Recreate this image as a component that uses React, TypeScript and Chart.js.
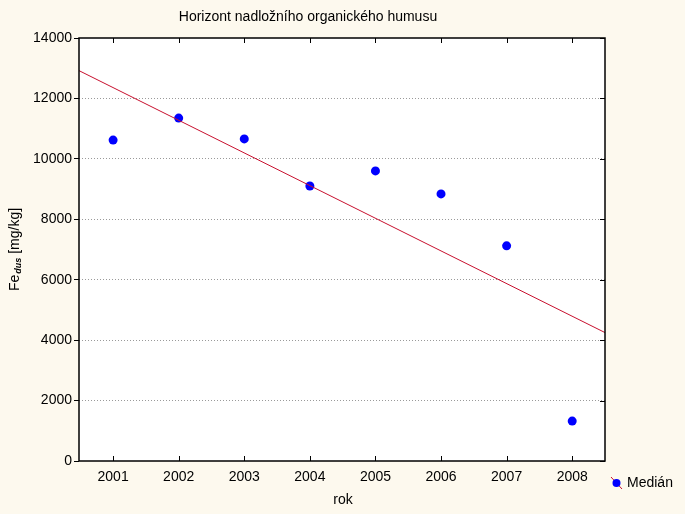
import React, { useEffect, useRef } from "react";
import { Chart, registerables } from "chart.js";

Chart.register(...registerables);

const years = [2001, 2002, 2003, 2004, 2005, 2006, 2007, 2008];
const medians = [10620, 11350, 10660, 9100, 9600, 8840, 7120, 1320];
const fitX = [2000.48, 2008.5];
const fitY = [12920, 4250];
const yTicks = [0, 2000, 4000, 6000, 8000, 10000, 12000, 14000];
const titleText = "Horizont nadložního organického humusu";
const xTitle = "rok";
const legendLabel = "Medián";

const FONT = "'Liberation Sans', Arial, sans-serif";
const FS = 14;
const BG = "#fdf9ee";

const decorPlugin = {
  id: "decor",
  afterDatasetsDraw(chart: any) {
    const ctx = chart.ctx;
    const { left, right, top, bottom } = chart.chartArea;
    const xs = chart.scales.x;
    const ys = chart.scales.y;
    ctx.save();
    // frame
    ctx.strokeStyle = "#000";
    ctx.lineWidth = 1.5;
    ctx.strokeRect(left, top, right - left, bottom - top);
    ctx.lineWidth = 1;
    ctx.beginPath();
    years.forEach((yr) => {
      const px = Math.round(xs.getPixelForValue(yr)) + 0.5;
      ctx.moveTo(px, bottom);
      ctx.lineTo(px, bottom - 5);
      ctx.moveTo(px, top);
      ctx.lineTo(px, top + 5);
    });
    yTicks.forEach((v) => {
      const py = Math.round(ys.getPixelForValue(v)) + 0.5;
      ctx.moveTo(right, py);
      ctx.lineTo(right - 5, py);
    });
    ctx.stroke();

    // title
    ctx.fillStyle = "#000";
    ctx.font = `${FS}px ${FONT}`;
    ctx.textAlign = "center";
    ctx.textBaseline = "middle";
    ctx.fillText(titleText, 308, 17);
    ctx.fillText(xTitle, 343, 500);

    // y title with subscript
    ctx.save();
    ctx.translate(15, 291);
    ctx.rotate(-Math.PI / 2);
    ctx.textAlign = "left";
    ctx.textBaseline = "middle";
    ctx.font = `${FS}px ${FONT}`;
    ctx.fillText("Fe", 0, 0);
    let w = ctx.measureText("Fe").width;
    ctx.font = `italic bold 9px ${FONT}`;
    ctx.fillText("dus", w + 1, 4);
    w += 1 + ctx.measureText("dus").width;
    ctx.font = `${FS}px ${FONT}`;
    ctx.fillText(" [mg/kg]", w, 0);
    ctx.restore();

    // legend
    ctx.strokeStyle = "#c8102e";
    ctx.lineWidth = 1;
    ctx.beginPath();
    ctx.moveTo(611, 477);
    ctx.lineTo(622, 489);
    ctx.stroke();
    ctx.fillStyle = "#0000ff";
    ctx.beginPath();
    ctx.arc(616.5, 483, 4, 0, Math.PI * 2);
    ctx.fill();
    ctx.fillStyle = "#000";
    ctx.font = `${FS}px ${FONT}`;
    ctx.textAlign = "left";
    ctx.textBaseline = "middle";
    ctx.fillText(legendLabel, 627, 483);
    ctx.restore();
  },
};

export default function App() {
  const ref = useRef<HTMLCanvasElement>(null);
  useEffect(() => {
    document.body.style.margin = "0";
    const chart = new Chart(ref.current!, {
      type: "scatter",
      data: {
        datasets: [
          {
            type: "line",
            label: "fit",
            data: fitX.map((x, i) => ({ x, y: fitY[i] })),
            borderColor: "#c8102e",
            borderWidth: 1,
            pointRadius: 0,
            fill: false,
          } as any,
          {
            label: legendLabel,
            data: years.map((x, i) => ({ x, y: medians[i] })),
            backgroundColor: "#0000ff",
            borderColor: "#0000ff",
            pointRadius: 4.5,
            borderWidth: 0,
          },
        ],
      },
      options: {
        animation: false,
        responsive: false,
        maintainAspectRatio: false,
        layout: { padding: { left: 0, top: 38, right: 80, bottom: 0 } },
        plugins: { legend: { display: false }, tooltip: { enabled: false }, title: { display: false } },
        scales: {
          x: {
            type: "linear",
            min: fitX[0],
            max: fitX[1],
            afterBuildTicks: (s: any) => {
              s.ticks = years.map((v) => ({ value: v }));
            },
            afterFit: (s: any) => {
              s.height = 53;
            },
            grid: { display: false, drawTicks: false },
            border: { display: false },
            ticks: {
              color: "#000",
              font: { family: FONT, size: FS },
              padding: 8,
              maxRotation: 0,
              autoSkip: false,
              callback: (v: any) => String(v),
            },
          },
          y: {
            min: 0,
            max: 14000,
            afterBuildTicks: (s: any) => {
              s.ticks = yTicks.map((v) => ({ value: v }));
            },
            afterFit: (s: any) => {
              s.width = 79;
            },
            grid: {
              display: true,
              drawTicks: true,
              tickLength: 5,
              tickColor: "#000",
              color: (c: any) =>
                c.tick && (c.tick.value === 0 || c.tick.value === 14000) ? "rgba(0,0,0,0)" : "#9a9a9a",
            },
            border: { display: false, dash: [1, 2] },
            ticks: {
              color: "#000",
              font: { family: FONT, size: FS },
              padding: 2,
              callback: (v: any) => String(v),
            },
          },
        },
      },
      plugins: [
        {
          id: "bg",
          beforeDraw(chart: any) {
            const c = chart.ctx;
            c.save();
            c.fillStyle = BG;
            c.fillRect(0, 0, chart.width, chart.height);
            const a = chart.chartArea;
            c.fillStyle = "#fff";
            c.fillRect(a.left, a.top, a.right - a.left, a.bottom - a.top);
            c.restore();
          },
        },
        decorPlugin,
      ],
    });
    return () => chart.destroy();
  }, []);
  return (
    <div style={{ width: 685, height: 514, background: BG }}>
      <canvas ref={ref} width={685} height={514} style={{ display: "block" }} />
    </div>
  );
}
